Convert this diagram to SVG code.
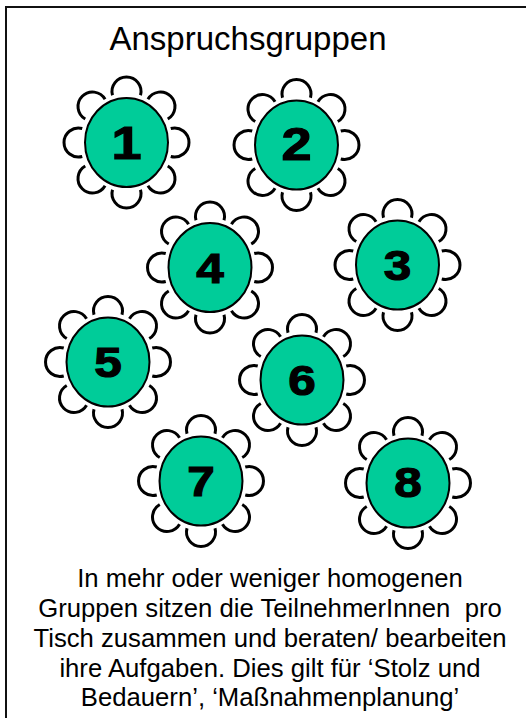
<svg xmlns="http://www.w3.org/2000/svg" xmlns:xlink="http://www.w3.org/1999/xlink" width="526" height="718" viewBox="0 0 526 718">
<style>
.frame{fill:none;stroke:#111;stroke-width:2}
.chair{fill:none;stroke:#000;stroke-width:3}
.table{fill:#00CC99;stroke:#000;stroke-width:2}
.num{font-family:"Liberation Sans",Arial,sans-serif;font-weight:bold;font-size:43px;text-anchor:middle;fill:#000;stroke:#000;stroke-width:1.2}
.big{font-size:47px}
.title{font-family:"Liberation Sans",Arial,sans-serif;font-size:33px;text-anchor:middle;fill:#000}
.body{font-family:"Liberation Sans",Arial,sans-serif;font-size:25.7px;text-anchor:middle;fill:#000;white-space:pre}
</style>
<defs>
<g id="chairs">
<path class="chair" d="M44.25,-14.01 A14.5,14.5 0 1 1 44.25,14.01"/>
<path class="chair" d="M41.25,23.44 A14.5,14.5 0 1 1 21.44,43.25"/>
<path class="chair" d="M14.01,47.25 A14.5,14.5 0 1 1 -14.01,47.25"/>
<path class="chair" d="M-21.44,43.25 A14.5,14.5 0 1 1 -41.25,23.44"/>
<path class="chair" d="M-44.25,14.01 A14.5,14.5 0 1 1 -44.25,-14.01"/>
<path class="chair" d="M-41.25,-23.44 A14.5,14.5 0 1 1 -21.44,-43.25"/>
<path class="chair" d="M-14.01,-47.25 A14.5,14.5 0 1 1 14.01,-47.25"/>
<path class="chair" d="M21.44,-43.25 A14.5,14.5 0 1 1 41.25,-23.44"/>
</g>
</defs>
<rect class="frame" x="6" y="7" width="540" height="730"/>
<text class="title" x="248" y="50">Anspruchsgruppen</text>
<g id="connectors"></g>
<g id="table1" transform="translate(126.5,142.5)">
<use xlink:href="#chairs"/>
<ellipse class="table" cx="0" cy="0" rx="41.5" ry="44.5"/>
<text class="num big" transform="scale(1.15,1)" x="0" y="16.5">1</text>
</g>
<g id="table2" transform="translate(296.5,145)">
<use xlink:href="#chairs"/>
<ellipse class="table" cx="0" cy="0" rx="41.5" ry="44.5"/>
<text class="num big" transform="scale(1.15,1)" x="0" y="15">2</text>
</g>
<g id="table3" transform="translate(397.5,265)">
<use xlink:href="#chairs"/>
<ellipse class="table" cx="0" cy="0" rx="41.5" ry="44.5"/>
<text class="num" transform="scale(1.15,1)" x="0" y="15">3</text>
</g>
<g id="table4" transform="translate(210,267.5)">
<use xlink:href="#chairs"/>
<ellipse class="table" cx="0" cy="0" rx="41.5" ry="44.5"/>
<text class="num" transform="scale(1.15,1)" x="0" y="15">4</text>
</g>
<g id="table5" transform="translate(108,362)">
<use xlink:href="#chairs"/>
<ellipse class="table" cx="0" cy="0" rx="41.5" ry="44.5"/>
<text class="num" transform="scale(1.15,1)" x="0" y="15">5</text>
</g>
<g id="table6" transform="translate(302,380)">
<use xlink:href="#chairs"/>
<ellipse class="table" cx="0" cy="0" rx="41.5" ry="44.5"/>
<text class="num" transform="scale(1.15,1)" x="0" y="15">6</text>
</g>
<g id="table7" transform="translate(201,481)">
<use xlink:href="#chairs"/>
<ellipse class="table" cx="0" cy="0" rx="41.5" ry="44.5"/>
<text class="num" transform="scale(1.15,1)" x="0" y="15">7</text>
</g>
<g id="table8" transform="translate(408,483)">
<use xlink:href="#chairs"/>
<ellipse class="table" cx="0" cy="0" rx="41.5" ry="44.5"/>
<text class="num" transform="scale(1.15,1)" x="0" y="14">8</text>
</g>
<g id="caption">
<text class="body" x="270" y="587">In mehr oder weniger homogenen</text>
<text class="body" x="270" y="617">Gruppen sitzen die TeilnehmerInnen  pro</text>
<text class="body" x="270" y="647">Tisch zusammen und beraten/ bearbeiten</text>
<text class="body" x="270" y="677">ihre Aufgaben. Dies gilt für ‘Stolz und</text>
<text class="body" x="270" y="706">Bedauern’, ‘Maßnahmenplanung’</text>
</g>
</svg>
